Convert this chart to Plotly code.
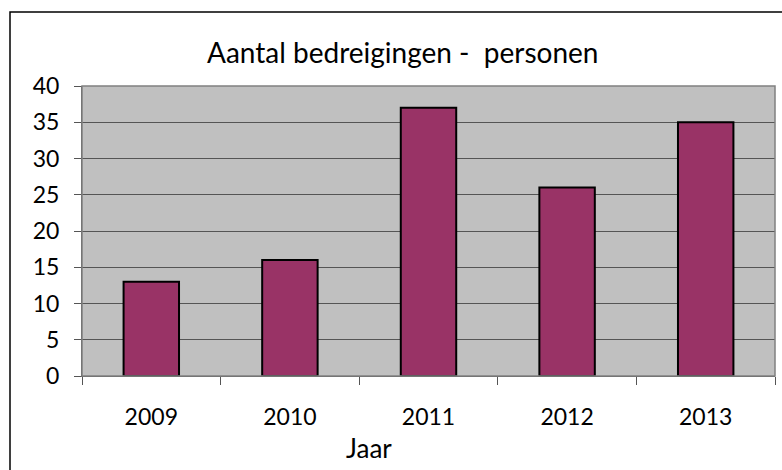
import plotly.graph_objects as go

years = ["2009", "2010", "2011", "2012", "2013"]
counts = [13, 16, 37, 26, 35]
y_ticks = [0, 5, 10, 15, 20, 25, 30, 35, 40]

title_text = "Aantal bedreigingen -  personen"
x_title = "Jaar"

W, H = 782, 470
L, R, T, B = 82, 775, 86, 376
pw, ph = R - L, B - T

def px(x):
    return (x - L) / pw

def py(y):
    return (B - y) / ph

FONT = "Lato, Carlito, Calibri, sans-serif"

fig = go.Figure(go.Bar(
    x=years, y=counts, width=0.4,
    marker=dict(color="#993366", line=dict(color="#000000", width=2)),
))

fig.update_layout(
    width=W, height=H,
    margin=dict(l=L, r=W - R, t=T, b=H - B),
    paper_bgcolor="white",
    plot_bgcolor="#C0C0C0",
    showlegend=False,
    font=dict(family=FONT, color="#000000"),
    xaxis=dict(
        type="category", tickson="boundaries", ticks="outside", ticklen=8,
        tickcolor="#555555", tickwidth=1, showline=True, linecolor="#555555",
        linewidth=1, showgrid=False, tickfont=dict(size=23, family=FONT),
        ticklabelstandoff=20, range=[-0.5, 4.5],
    ),
    yaxis=dict(
        range=[0, 40], tickvals=y_ticks, ticks="outside", ticklen=7,
        tickcolor="#555555", showline=True, linecolor="#555555", linewidth=1,
        gridcolor="#555555", gridwidth=1, zeroline=False,
        tickfont=dict(size=23, family=FONT), ticklabelstandoff=10,
    ),
    shapes=[
        dict(type="rect", xref="paper", yref="paper", x0=0, x1=1, y0=0, y1=1,
             line=dict(color="#808080", width=1.5), fillcolor="rgba(0,0,0,0)",
             layer="above"),
        dict(type="rect", xref="paper", yref="paper",
             x0=px(10), x1=px(800), y0=py(490), y1=py(12),
             line=dict(color="#000000", width=1.5), fillcolor="rgba(0,0,0,0)"),
    ],
    annotations=[
        dict(text=title_text, xref="paper", yref="paper", x=px(402), y=py(52),
             xanchor="center", yanchor="middle", showarrow=False,
             font=dict(size=28, family=FONT)),
        dict(text=x_title, xref="paper", yref="paper", x=px(369), y=py(448),
             xanchor="center", yanchor="middle", showarrow=False,
             font=dict(size=26, family=FONT)),
    ],
)

fig.write_html(
    "out.html",
    config={"displayModeBar": False},
    post_script="document.body.style.margin='0';document.body.style.overflow='hidden';",
)
